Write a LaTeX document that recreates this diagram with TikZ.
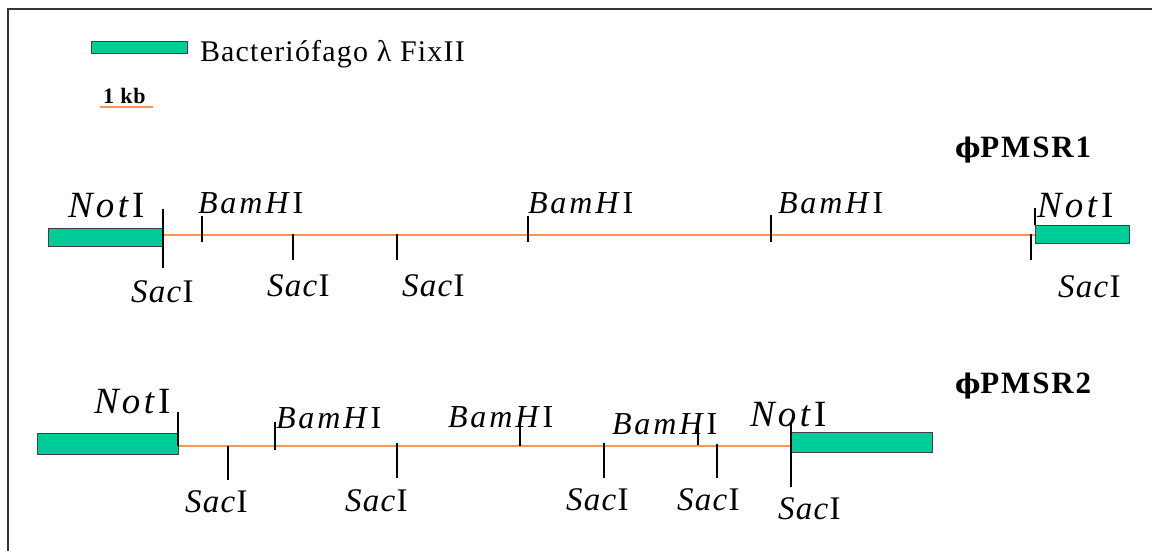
\documentclass[tikz,border=0pt]{standalone}
\usepackage{fontspec}
\setmainfont{Liberation Serif}
\newfontfamily\legfont[LetterSpace=4]{Liberation Serif}
\newfontfamily\notfont[LetterSpace=9]{Liberation Serif}
\newfontfamily\bamfont[LetterSpace=9]{Liberation Serif}
\newfontfamily\sacfont[LetterSpace=4]{Liberation Serif}
\newfontfamily\phfont[LetterSpace=6]{Liberation Serif}
\newfontfamily\phisym{DejaVu Serif}
\newfontfamily\kbfont[LetterSpace=4]{Liberation Serif}
\definecolor{phage}{RGB}{0,204,153}
\definecolor{dnaorange}{RGB}{255,150,80}
\newcommand\labNot{{\notfont\fontsize{37}{42}\selectfont\textit{Not}I}}
\newcommand\labBam{{\bamfont\fontsize{32}{36}\selectfont\textit{BamH}I}}
\newcommand\labSac{{\sacfont\fontsize{33}{38}\selectfont\textit{Sac}I}}
\newcommand\phititle[1]{{\fontsize{31}{35}\selectfont\bfseries{\phisym\fontsize{27}{31}\selectfont\bfseries ϕ}\phfont\bfseries #1}}
\begin{document}
\begin{tikzpicture}[x=1pt,y=-1pt,
  frag/.style={draw=black!75, line width=1pt, fill=phage},
  dna/.style={draw=dnaorange, line width=2pt},
  sitetick/.style={draw=black, line width=1.1pt},
  lab/.style={anchor=base west, inner sep=0pt, outer sep=0pt}]
\useasboundingbox (0,0) rectangle (1152,551);
% frame
\draw[line width=1.5pt, black!80] (1152,9) -- (8,9) -- (8,551);
% legend
\draw[frag] (91,42) rectangle (187,54);
\node[lab] (leg) at (200,62) {\legfont\fontsize{30}{34}\selectfont Bacteriófago λ FixII};
\node[lab] (kb) at (103,103) {\kbfont\fontsize{22}{26}\selectfont\bfseries 1 kb};
\coordinate (kbA) at (100,107);
\coordinate (kbB) at (153,107);
\draw[dnaorange, line width=1.5pt] (kbA) -- (kbB);
% titles
\node[lab] (t1) at (955,157) {\phititle{PMSR1}};
\node[lab] (t2) at (955,393) {\phititle{PMSR2}};

% ---------------- row 1 ----------------
\coordinate (a0) at (163,235);
\coordinate (a1) at (1035,235);
\draw[dna] (a0) -- (a1);
\draw[frag] (48,228) rectangle (163,246);
\draw[frag] (1035,225) rectangle (1129,243);
\draw[sitetick] (163,209) -- (163,268);
\draw[sitetick] (202,216) -- (202,242);
\draw[sitetick] (293,234) -- (293,260);
\draw[sitetick] (397,234) -- (397,260);
\draw[sitetick] (528,216) -- (528,242);
\draw[sitetick] (771,215) -- (771,242);
\draw[sitetick] (1031,234) -- (1031,260);
\draw[sitetick] (1035,208) -- (1035,225);
\node[lab] (n1a) at (68,217) {\labNot};
\node[lab] (b1a) at (198,213) {\labBam};
\node[lab] (b1b) at (528,213) {\labBam};
\node[lab] (b1c) at (778,213) {\labBam};
\node[lab] (n1b) at (1037,217) {\labNot};
\node[lab] (s1a) at (131,302) {\labSac};
\node[lab] (s1b) at (267,296) {\labSac};
\node[lab] (s1c) at (402,296) {\labSac};
\node[lab] (s1d) at (1058,297) {\labSac};

% ---------------- row 2 ----------------
\coordinate (c0) at (178,446);
\coordinate (c1) at (795,446);
\draw[dna] (c0) -- (c1);
\draw[frag] (37,433) rectangle (178,454);
\draw[frag] (791,432) rectangle (932,452);
\draw[sitetick] (178,412) -- (178,446);
\draw[sitetick] (228,446) -- (228,480);
\draw[sitetick] (275,422) -- (275,450);
\draw[sitetick] (397,443) -- (397,478);
\draw[sitetick] (520,427) -- (520,446);
\draw[sitetick] (604,443) -- (604,478);
\draw[sitetick] (698,423) -- (698,445);
\draw[sitetick] (717,444) -- (717,478);
\draw[sitetick] (791,423) -- (791,487);
\node[lab] (n2a) at (94,413) {\labNot};
\node[lab] (b2a) at (276,428) {\labBam};
\node[lab] (b2b) at (448,427) {\labBam};
\node[lab] (b2c) at (612,434) {\labBam};
\node[lab] (n2b) at (750,426) {\labNot};
\node[lab] (s2a) at (185,512) {\labSac};
\node[lab] (s2b) at (345,511) {\labSac};
\node[lab] (s2c) at (566,510) {\labSac};
\node[lab] (s2d) at (677,510) {\labSac};
\node[lab] (s2e) at (778,519) {\labSac};
\end{tikzpicture}
\end{document}
